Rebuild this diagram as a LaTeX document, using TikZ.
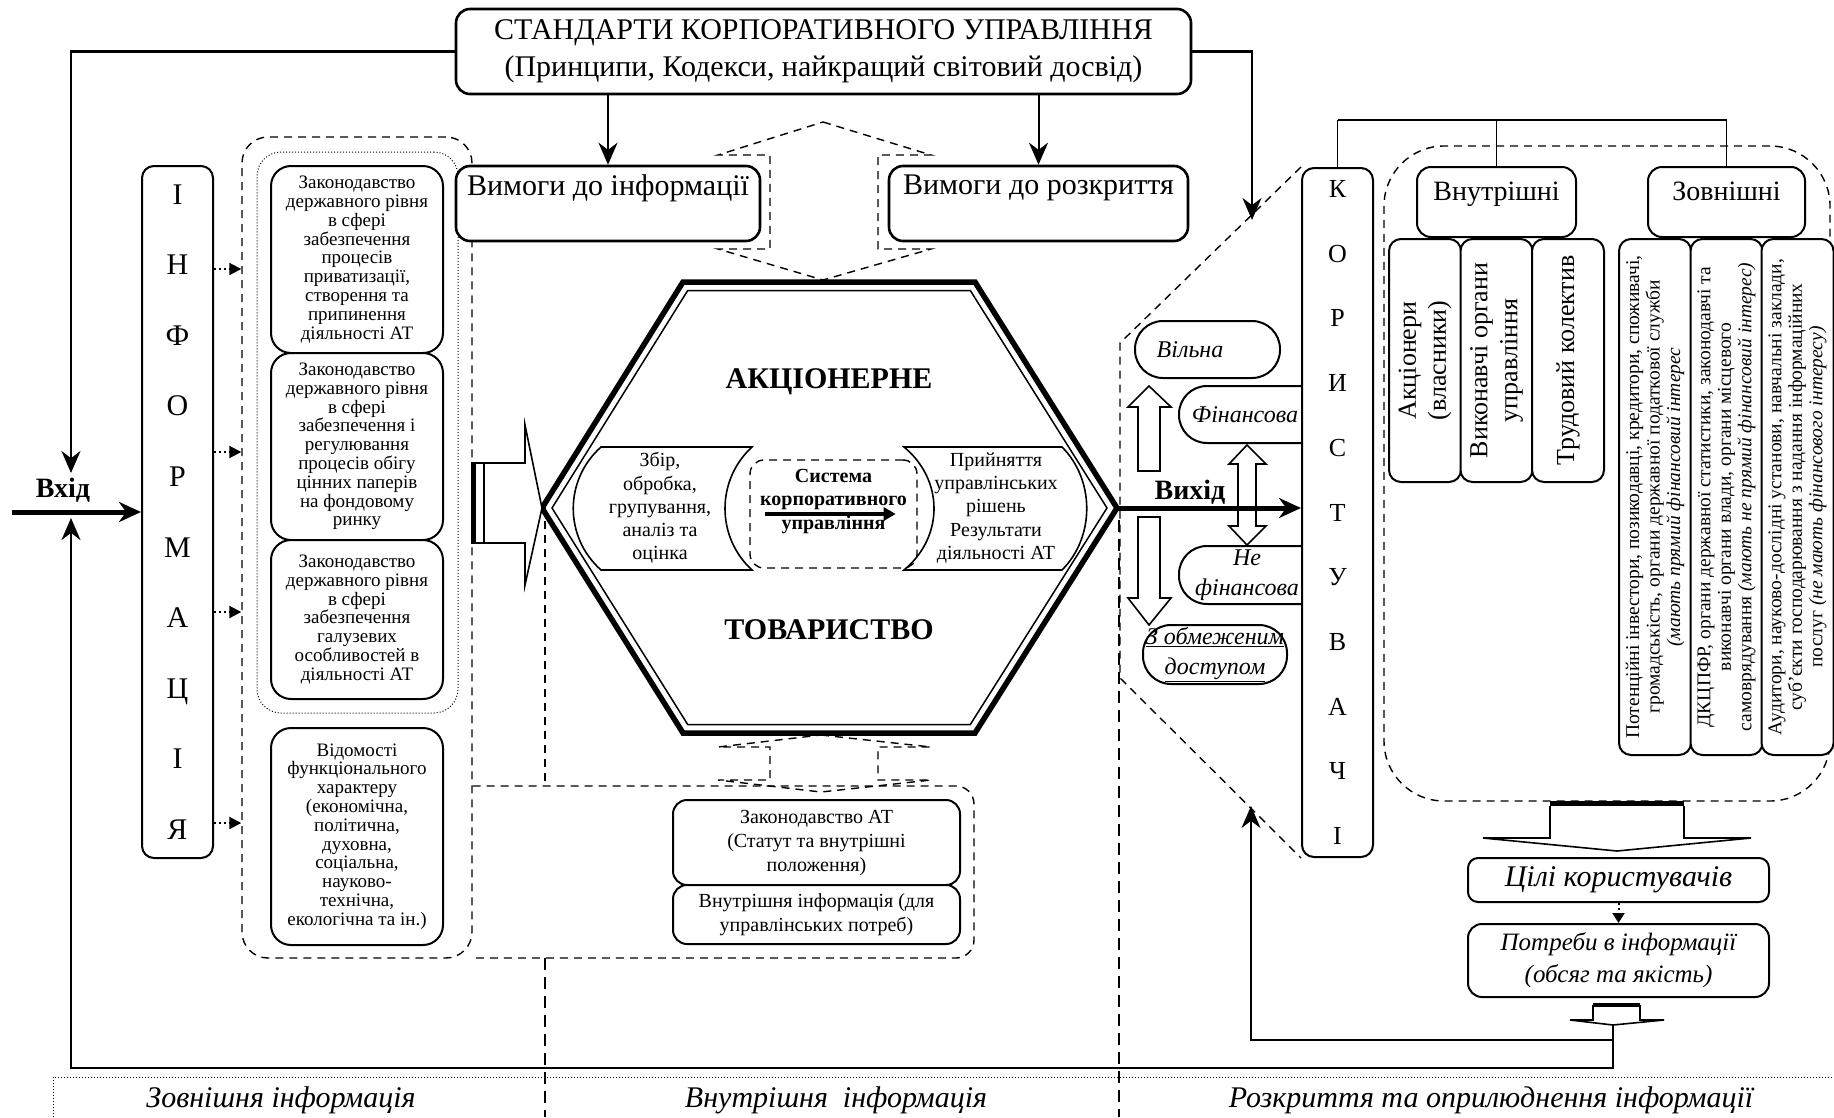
\documentclass[tikz,border=0pt]{standalone}
\usepackage{fontspec}
\setmainfont{Liberation Serif}
\usetikzlibrary{arrows.meta}
\begin{document}
\begin{tikzpicture}[x=1pt,y=-1pt,
  box/.style={draw, line width=2pt, rounded corners=14pt, fill=white, align=center, inner sep=2pt},
  bigbox/.style={box, line width=2.6pt, font=\fontsize{30}{37}\selectfont},
  lawbox/.style={box, rounded corners=20pt, minimum width=172pt, font=\fontsize{19}{18.8}\selectfont},
  colbox/.style={box, rounded corners=12pt, minimum width=71pt},
  pill/.style={box, rounded corners=28pt, font=\fontsize{24}{30}\selectfont\itshape},
  subbox/.style={box, rounded corners=12pt, rotate=90},
  region/.style={line width=1.4pt, dash pattern=on 8pt off 6pt},
  sep/.style={line width=1.2pt, dash pattern=on 12pt off 7pt},
  arr/.style={line width=2pt, -{Stealth[length=22pt,width=19pt]}},
  dotarr/.style={line width=2pt, dash pattern=on 2pt off 3pt, -{Triangle[length=12pt,width=12pt]}},
  hollow/.style={draw, line width=1.6pt, fill=white},
  bandtext/.style={font=\fontsize{30}{32}\selectfont\itshape}
]
\useasboundingbox (0,0) rectangle (1834,1117);

\node[draw, region, rounded corners=26pt, minimum width=230pt, minimum height=821pt] (extreg) at (357,547.5) {};
\node[draw, line width=1pt, dash pattern=on 1pt off 2pt, rounded corners=24pt, minimum width=201pt, minimum height=561pt] (lawreg) at (357.5,432.5) {};
\draw[region, rounded corners=18pt] (extreg.east |- 0,786) -- (974,786) -- (974,958) -- (extreg.east |- 0,958);
\node[draw, region, rounded corners=60pt, minimum width=446pt, minimum height=655pt] (usrreg) at (1607,473.5) {};

\draw[region] (545,507) -- (545,786);
\draw[sep] (545,958) -- (545,1117);
\draw[sep] (1119,520) -- (1119,1117);
\draw[line width=1pt, dash pattern=on 1pt off 2pt] (53,1117) -- (53,1077) -- (1834,1077);

\draw[region] (823,122) -- (931,155) -- (878,155) -- (878,249) -- (931,249) -- (823,280) -- (718,249) -- (770,249) -- (770,155) -- (718,155) -- cycle;
\draw[region] (821,735) -- (931,747) -- (878,747) -- (878,780) -- (931,780) -- (821,792) -- (718,780) -- (770,780) -- (770,747) -- (718,747) -- cycle;

\node[bigbox, minimum width=735pt, minimum height=85pt] (std) at (823.5,51.5) {СТАНДАРТИ КОРПОРАТИВНОГО УПРАВЛІННЯ\\(Принципи, Кодекси, найкращий світовий досвід)};
\node[bigbox, minimum width=304pt, minimum height=75pt] (vinf) at (608,203.5) {Вимоги до інформації\\\mbox{}};
\node[bigbox, minimum width=299pt, minimum height=75pt] (vroz) at (1038.5,203.5) {Вимоги до розкриття\\\mbox{}};

\node[colbox, minimum height=692pt, font=\fontsize{30}{70.6}\selectfont] (inf) at (177.5,512) {І\\Н\\Ф\\О\\Р\\М\\А\\Ц\\І\\Я};

\node[lawbox, minimum height=187pt] (law1) at (357,259.5) {Законодавство\\державного рівня\\в сфері\\забезпечення\\процесів\\приватизації,\\створення та\\припинення\\діяльності АТ};
\node[lawbox, minimum height=187pt] (law2) at (357,446.5) {Законодавство\\державного рівня\\в сфері\\забезпечення і\\регулювання\\процесів обігу\\цінних паперів\\на фондовому\\ринку};
\node[lawbox, minimum height=159pt] (law3) at (357,619.5) {Законодавство\\державного рівня\\в сфері\\забезпечення\\галузевих\\особливостей в\\діяльності АТ};
\node[lawbox, minimum height=217pt] (vid) at (357,836.5) {Відомості\\функціонального\\характеру\\(економічна,\\політична,\\духовна,\\соціальна,\\науково-\\технічна,\\екологічна та ін.)};

\draw[dotarr] (inf.east |- 0,269) -- (extreg.west |- 0,269);
\draw[dotarr] (inf.east |- 0,452) -- (extreg.west |- 0,452);
\draw[dotarr] (inf.east |- 0,612) -- (extreg.west |- 0,612);
\draw[dotarr] (inf.east |- 0,823) -- (extreg.west |- 0,823);

\coordinate (inp) at (12,512);
\coordinate (fbtop) at (71,473);
\coordinate (fbbot) at (71,518);
\coordinate (ftip) at (1252,220);
\coordinate (kin) at (1251,806);
\coordinate (ptip) at (1613,1025);
\coordinate (pbr) at (1613,1040);
\coordinate (hL) at (542,508);
\coordinate (hR) at (1117,508);

\node[font=\fontsize{28}{30}\selectfont\bfseries] (vhid) at (63,490) {Вхід};
\draw[line width=5pt, -{Stealth[length=22pt,width=20pt]}] (inp) -- (inf.west |- inp);
\draw[arr, line width=2.4pt] (std.west) -| (fbtop);
\draw[arr, line width=2.4pt] (std.east) -| (ftip);
\draw[arr] (std.south -| vinf.north) -- (vinf.north);
\draw[arr] (std.south -| vroz.north) -- (vroz.north);

\draw[line width=5.5pt, line join=miter] (683,282) -- (975,282) -- (hR) -- (975,733) -- (683,733) -- (hL) -- cycle;
\draw[line width=1.5pt] (687.7,290.5) -- (970.3,290.5) -- (1107,508) -- (970.3,724.5) -- (687.7,724.5) -- (552,508) -- cycle;
\node[font=\fontsize{30}{36}\selectfont\bfseries] (akc) at (829,382) {АКЦІОНЕРНЕ};
\node[font=\fontsize{30}{36}\selectfont\bfseries] (tov) at (829,630) {ТОВАРИСТВО};

\draw[line width=1.6pt] (601,447) -- (752,447) .. controls (716,480) and (716,537) .. (752,570) -- (601,570) .. controls (564,537) and (564,480) .. (601,447) -- cycle;
\draw[line width=1.6pt] (904,447) -- (1062,447) .. controls (1095,480) and (1095,537) .. (1062,570) -- (904,570) .. controls (944,537) and (944,480) .. (904,447) -- cycle;
\node[align=center, font=\fontsize{20}{23.2}\selectfont] (zbir) at (660,508) {Збір,\\обробка,\\групування,\\аналіз та\\оцінка};
\node[align=center, font=\fontsize{20}{23.2}\selectfont] (rish) at (996,508) {Прийняття\\управлінських\\рішень\\Результати\\діяльності АТ};
\node[draw, region, rounded corners=14pt, minimum width=167pt, minimum height=108pt, align=center, font=\fontsize{20}{23.5}\selectfont\bfseries] (sys) at (833.5,514) {Система\\корпоративного\\управління\\[6pt]\mbox{}};
\draw[line width=4pt, -{Triangle[length=12pt,width=13pt]}] ([xshift=16pt]sys.west) -- ([xshift=-22pt]sys.east);

\draw[line width=1.2pt, fill=white] (472,463) rectangle (484,543);
\draw[line width=3pt] (474,463) -- (474,543);
\draw[line width=1.6pt, fill=white] (484,463) -- (525,463) -- (525,425) -- (hL) -- (525,585) -- (525,543) -- (484,543) -- cycle;

\node[box, minimum width=287pt, minimum height=85pt, font=\fontsize{20}{24}\selectfont] (lawat) at (816.5,842.5) {Законодавство АТ\\(Статут та внутрішні\\положення)};
\node[box, minimum width=287pt, minimum height=59pt, font=\fontsize{20}{24}\selectfont] (intinf) at (816.5,914.5) {Внутрішня інформація (для\\управлінських потреб)};

\node[pill, minimum width=145pt, minimum height=57pt] (vil) at (1207.5,349.5) {\hspace*{-35pt}Вільна};
\node[pill, minimum width=151pt, minimum height=57pt] (fin) at (1254.5,414.5) {\hspace*{-19pt}Фінансова};
\node[pill, minimum width=151pt, minimum height=58pt] (nefin) at (1254.5,575) {\hspace*{-15pt}Не\\\hspace*{-15pt}фінансова};
\node[pill, inner xsep=0pt, minimum width=144pt, minimum height=59pt] (obm) at (1215,654.5) {\underline{З обмеженим}\\\underline{доступом}};

\draw[hollow] (1138,471) -- (1138,407) -- (1128,407) -- (1149,386) -- (1171,407) -- (1160,407) -- (1160,471) -- cycle;
\draw[hollow] (1138,517) -- (1138,598) -- (1128,598) -- (1149,625) -- (1171,598) -- (1160,598) -- (1160,517) -- cycle;
\draw[hollow] (1238,464) -- (1229,464) -- (1247,445) -- (1266,464) -- (1256,464) -- (1256,526) -- (1266,526) -- (1247,545) -- (1229,526) -- (1238,526) -- cycle;

\node[colbox, minimum height=689pt, font=\fontsize{26}{64.7}\selectfont] (kor) at (1337.5,512.5) {К\\О\\Р\\И\\С\\Т\\У\\В\\А\\Ч\\І};
\draw[region] (kor.north west) -- (1120,343) -- (1120,678) -- (kor.south west);

\draw[line width=5pt, -{Stealth[length=22pt,width=20pt]}] (hR) -- (kor.west |- hR);
\node[font=\fontsize{28}{30}\selectfont\bfseries] (vyh) at (1190,492) {Вихід};

\node[box, minimum width=159pt, minimum height=70pt, font=\fontsize{28}{22}\selectfont] (vnut) at (1496.5,202) {Внутрішні\\\mbox{}};
\node[box, minimum width=157pt, minimum height=70pt, font=\fontsize{28}{22}\selectfont] (zovn) at (1726.5,202) {Зовнішні\\\mbox{}};
\draw[line width=2.4pt] (kor.north |- 0,120) -- (zovn.north |- 0,120);
\draw[line width=1.2pt] (kor.north) -- (kor.north |- 0,120);
\draw[line width=1.2pt] (vnut.north) -- (vnut.north |- 0,120);
\draw[line width=1.2pt] (zovn.north) -- (zovn.north |- 0,120);

\node[subbox, minimum width=243pt, minimum height=72pt, font=\fontsize{26}{30}\selectfont] (akcs) at (1425,360.5) {Акціонери\\(власники)};
\node[subbox, minimum width=243pt, minimum height=72pt, font=\fontsize{26}{30}\selectfont] (vyk) at (1496.5,360.5) {Виконавчі органи\\управління};
\node[subbox, minimum width=243pt, minimum height=72pt, font=\fontsize{26}{30}\selectfont] (trud) at (1568,360.5) {Трудовий колектив};

\node[subbox, minimum width=516pt, minimum height=72pt, font=\fontsize{19.5}{20.5}\selectfont] (zovA) at (1655,497) {Потенційні інвестори, позикодавці, кредитори, споживачі,\\громадськість, органи державної податкової служби\\\textit{(мають прямий фінансовий інтерес}};
\node[subbox, minimum width=516pt, minimum height=72pt, font=\fontsize{19.5}{20.5}\selectfont] (zovB) at (1726.5,497) {ДКЦПФР, органи державної статистики, законодавчі та\\виконавчі органи влади, органи місцевого\\самоврядування \textit{(мають не прямий фінансовий інтерес)}};
\node[subbox, minimum width=516pt, minimum height=72pt, font=\fontsize{19.5}{20.5}\selectfont] (zovC) at (1797.5,497) {Аудитори, науково-дослідні установи, навчальні заклади,\\суб’єкти господарювання з надання інформаційних\\послуг \textit{(не мають фінансового інтересу)}};

\draw[hollow] (1550,806) -- (1550,838) -- (1483,838) -- (1617,851) -- (1751,838) -- (1684,838) -- (1684,806);
\draw[line width=5pt] (1550,803) -- (1684,803);

\node[box, rounded corners=10pt, minimum width=301pt, minimum height=44pt, font=\fontsize{30}{32}\selectfont\itshape] (cil) at (1618.5,880) {Цілі користувачів};
\node[box, rounded corners=14pt, minimum width=301pt, minimum height=73pt, font=\fontsize{25}{32}\selectfont\itshape] (potr) at (1618.5,960.5) {Потреби в інформації\\(обсяг та якість)};
\draw[dotarr, -{Triangle[length=10pt,width=12pt]}] (cil.south) -- (potr.north);

\draw[hollow] (1593,1005) -- (1593,1020) -- (1570,1020) -- (ptip) -- (1664,1020) -- (1640,1020) -- (1640,1005);
\draw[line width=4pt] (1593,1005) -- (1640,1005);
\draw[arr, line width=2.4pt] (ptip) -- (1613,1068) -| (fbbot);
\draw[arr] (pbr) -| (kin);

\node[bandtext] (extinf) at (281,1100) {Зовнішня інформація};
\node[bandtext] (ininf) at (836,1100) {Внутрішня~ інформація};
\node[bandtext] (discl) at (1491,1100) {Розкриття та оприлюднення інформації};
\end{tikzpicture}
\end{document}
